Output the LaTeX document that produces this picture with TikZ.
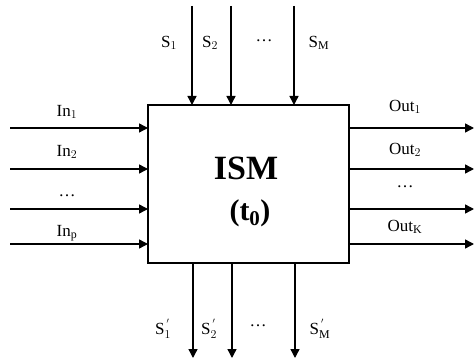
\documentclass[tikz,border=0pt]{standalone}
\usepackage{fontspec}
\setmainfont{Liberation Serif}
\usetikzlibrary{arrows.meta}
\begin{document}
\begin{tikzpicture}[x=1pt,y=-1pt,
  sig/.style={line width=1.4pt,-{Triangle[length=9pt,width=9pt]}},
  lbl/.style={font=\fontsize{17}{17}\selectfont,inner sep=0pt},
  box/.style={draw,line width=1.3pt,inner sep=0pt}]
\useasboundingbox (0,0) rectangle (474,358);
\node[box,minimum width=201pt,minimum height=158pt] (ism) at (248.5,184) {};
\node[font=\bfseries\fontsize{34}{34}\selectfont] (t1) at (246,168) {ISM};
\node[font=\bfseries\fontsize{30}{30}\selectfont] (t2) at (250,213) {(t$_\mathbf{0}$)};
% inputs
\foreach \y/\t/\ly [count=\i] in {128/In$_1$/112,169/In$_2$/152,209/\dots/196,244/In$_\mathrm{p}$/233}{
  \coordinate (a\i) at (10,\y);
  \coordinate (b\i) at (148,\y);
  \draw[sig] (a\i) -- (b\i);
  \node[lbl] (il\i) at (67,\ly) {\t};
}
% outputs
\foreach \y/\t/\ly [count=\i] in {128/Out$_1$/107,169/Out$_2$/150,209/\dots/187,244/Out$_\mathrm{K}$/227}{
  \coordinate (c\i) at (349,\y);
  \coordinate (d\i) at (474,\y);
  \draw[sig] (c\i) -- (d\i);
  \node[lbl] (ol\i) at (405,\ly) {\t};
}
% top
\foreach \x/\t/\lx [count=\i] in {192/S$_1$/169,231/S$_2$/210,294/S$_\mathrm{M}$/319}{
  \coordinate (e\i) at (\x,6);
  \coordinate (f\i) at (\x,105);
  \draw[sig] (e\i) -- (f\i);
  \node[lbl] (tl\i) at (\lx,43) {\t};
}
\node[lbl] (tdots) at (264,41) {\dots};
% bottom
\foreach \x/\t/\lx [count=\i] in {193/S$_1^{\,'}$/163,232/S$_2^{\,'}$/209,295/S$_\mathrm{M}^{\,'}$/320}{
  \coordinate (g\i) at (\x,263);
  \coordinate (h\i) at (\x,358);
  \draw[sig] (g\i) -- (h\i);
  \node[lbl] (bl\i) at (\lx,329) {\t};
}
\node[lbl] (bdots) at (258,326) {\dots};
\end{tikzpicture}
\end{document}
